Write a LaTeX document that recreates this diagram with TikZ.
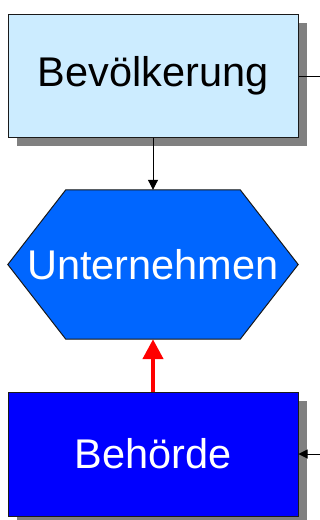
\documentclass[tikz,border=0pt]{standalone}
\usepackage{fontspec}
\setmainfont{Liberation Sans}
\usetikzlibrary{shadows,arrows.meta,calc,backgrounds}
\definecolor{paleblue}{HTML}{CCECFF}
\definecolor{midblue}{HTML}{0066FF}
\definecolor{deepblue}{HTML}{0000FF}
\definecolor{edgegray}{HTML}{1A1A1A}
\definecolor{shadowgray}{HTML}{808080}
\tikzset{
  shade box/.style={drop shadow={shadow xshift=8.5pt, shadow yshift=-8.5pt, fill=shadowgray, opacity=1}},
  label font/.style={font=\fontsize{41.5}{48}\selectfont},
  entity/.style={draw=edgegray, line width=1pt, inner sep=0pt,
    minimum width=290pt, minimum height=123pt, label font, shade box},
  hexa/.style={inner sep=0pt, minimum width=290pt, minimum height=149pt, label font},
  hexline/.style={draw=edgegray, line width=1pt, fill=midblue},
  hexshade/.style={fill=shadowgray},
  flow/.style={line width=1pt, -{Triangle[width=10pt,length=10pt]}},
  side/.style={line width=1pt, -{Triangle[width=9pt,length=9pt]}},
  key flow/.style={red, line width=4.5pt, -{Triangle[width=20pt,length=20pt]}}
}
\begin{document}
\begin{tikzpicture}[x=1pt,y=-1pt]
  \useasboundingbox (0,0) rectangle (320,520);
  \node[entity, fill=paleblue, text=black] (bev) at (153,75.5) {Bevölkerung};
  \node[hexa, text=white] (unt) at (153,264.5) {Unternehmen};
  \node[entity, fill=deepblue, text=white, minimum height=124pt] (beh) at (153,454) {Behörde};
  % hexagon outline behind the Unternehmen label, with its shadow
  \begin{scope}[on background layer]
    \foreach \dx/\sty in {8.5/hexshade, 0/hexline} {
      \path[\sty, shift={(\dx,\dx)}]
        ($(unt.north west)+(58,0)$) -- ($(unt.north east)+(-58,0)$) -- (unt.east)
        -- ($(unt.south east)+(-58,0)$) -- ($(unt.south west)+(58,0)$) -- (unt.west) -- cycle;
    }
  \end{scope}
  \coordinate (outA) at (320,76);
  \coordinate (inB) at (320,454);
  \draw[flow] (bev.south) -- (unt.north);
  \draw[key flow] (beh.north) -- (unt.south);
  \draw[line width=1pt] (bev.east |- outA) -- (outA);
  \draw[side] (inB) -- (beh.east |- inB);
\end{tikzpicture}
\end{document}
